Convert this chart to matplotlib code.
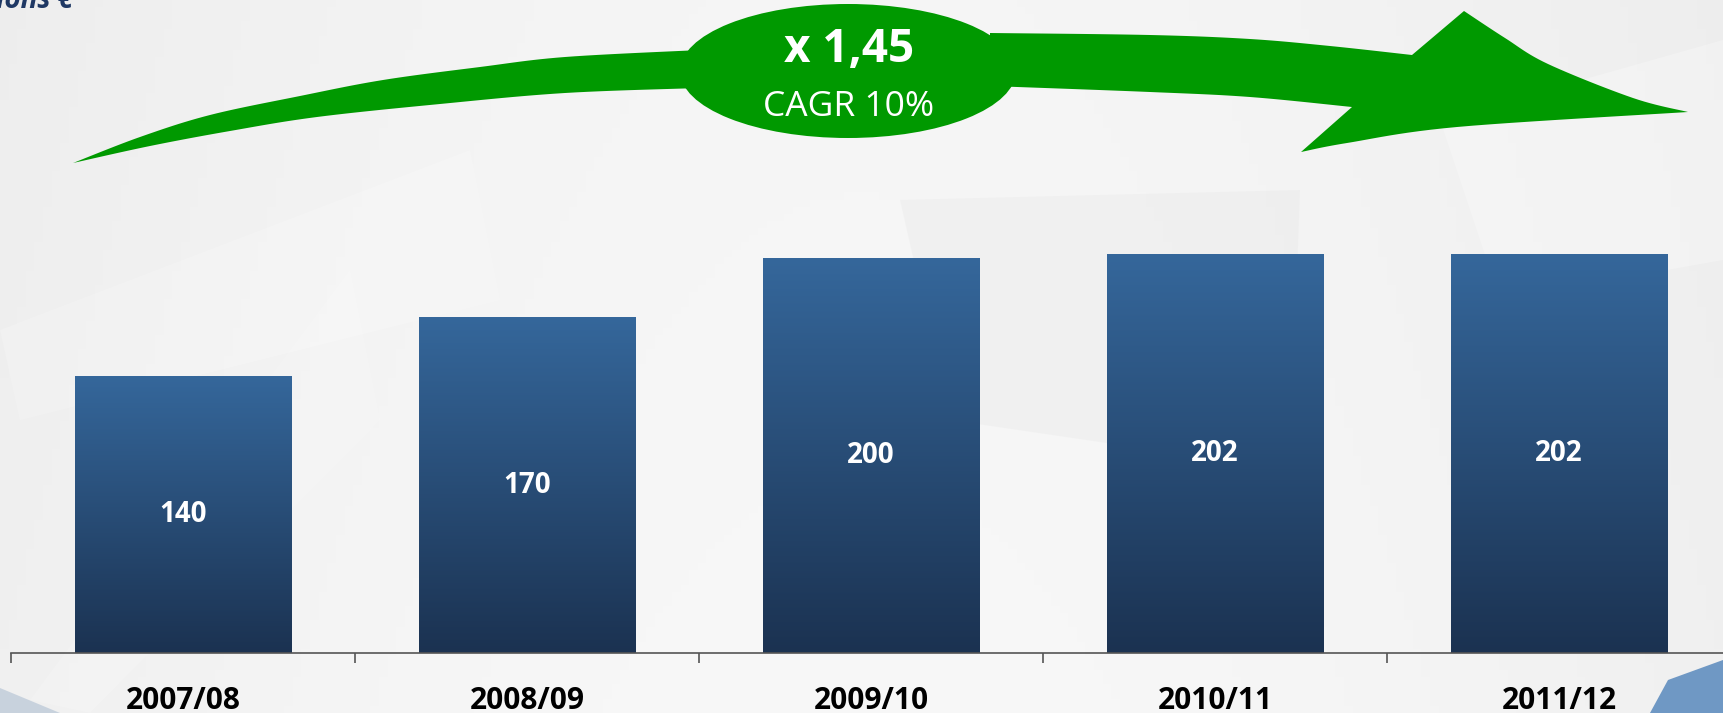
import numpy as np
import matplotlib
matplotlib.use("Agg")
import matplotlib.pyplot as plt
from matplotlib.patches import Polygon, Ellipse
from matplotlib.colors import LinearSegmentedColormap

years = ["2007/08", "2008/09", "2009/10", "2010/11", "2011/12"]
revenue = [140, 170, 200, 202, 202]
growth_label = "x 1,45"
cagr_label = "CAGR 10%"
unit_label = "Millions €"

W, H = 1723, 713
GREEN = "#009900"
BAR_TOP, BAR_BOT = "#35679b", "#1b3251"
plt.rcParams.update({"font.family": ["Open Sans", "DejaVu Sans"]})


def smooth(pts, n=12):
    # catmull-rom through the outline points, so the arrow edges are not jagged
    p = np.asarray(pts, float)
    p = np.vstack([p[0], p, p[-1]])
    out = []
    for i in range(1, len(p) - 2):
        p0, p1, p2, p3 = p[i - 1], p[i], p[i + 1], p[i + 2]
        for t in np.linspace(0, 1, n, endpoint=False):
            out.append(0.5 * (2 * p1 + (p2 - p0) * t + (2 * p0 - 5 * p1 + 4 * p2 - p3) * t ** 2
                              + (3 * p1 - p0 - 3 * p2 + p3) * t ** 3))
    out.append(p[-2])
    return np.array(out)


fig = plt.figure(figsize=(W / 100, H / 100), dpi=100)

# background layer in pixel coordinates (y downwards)
bg = fig.add_axes([0, 0, 1, 1], zorder=0)
bg.set_xlim(0, W)
bg.set_ylim(H, 0)
bg.axis("off")
gx = np.linspace(0, 1, 200)
grad = 0.932 + 0.03 * np.sin(np.pi * gx)[None, :] + 0.01 * np.linspace(0, 1, 100)[:, None]
bg.imshow(np.dstack([grad] * 3), extent=(0, W, H, 0), aspect="auto", zorder=0)
# faint decorative shapes
for pts, c, a in [([(0, 330), (470, 150), (500, 300), (20, 420)], "white", 0.18),
                  ([(30, 700), (350, 270), (380, 420), (90, 713)], "white", 0.15),
                  ([(900, 200), (1300, 190), (1290, 470), (950, 420)], "#e2e2e2", 0.25),
                  ([(1440, 120), (1723, 40), (1723, 260), (1500, 300)], "white", 0.25)]:
    bg.add_patch(Polygon(pts, closed=True, fc=c, ec="none", alpha=a, zorder=1))
bg.add_patch(Polygon([(1650, 713), (1668, 680), (1723, 660), (1723, 713)],
                     closed=True, fc="#6f98c4", ec="none", zorder=2))
bg.add_patch(Polygon([(0, 688), (60, 713), (0, 713)],
                     closed=True, fc="#b8c6d6", ec="none", alpha=0.7, zorder=2))

# growth arrow
lt = smooth([(73, 163), (140, 137), (210, 115), (300, 96), (383, 80), (480, 67), (565, 57), (700, 50)])
lb = smooth([(700, 88), (565, 93), (440, 104), (317, 117), (230, 131), (150, 146), (73, 163)])
rt = smooth([(990, 33), (1150, 35), (1250, 39), (1330, 46), (1412, 55)])
rh = smooth([(1464, 11), (1505, 38), (1548, 64), (1633, 98), (1688, 112)])
rb = smooth([(1688, 112), (1457, 127), (1347, 143), (1301, 152)])
rl = smooth([(1352, 107), (1250, 97), (1150, 92), (990, 86)])
bg.add_patch(Polygon(np.vstack([lt, lb]), closed=True, fc=GREEN, ec="none", zorder=3))
bg.add_patch(Polygon(np.vstack([rt, rh, rb, rl]), closed=True, fc=GREEN, ec="none", zorder=3))
bg.add_patch(Ellipse((848, 71), 336, 134, fc=GREEN, ec="none", zorder=4))
bg.text(849, 50, growth_label, color="white", fontsize=33, fontweight="bold",
        ha="center", va="center", zorder=5)
bg.text(849, 107, cagr_label, color="white", fontsize=25.5,
        ha="center", va="center", zorder=5)
bg.text(73, 8, unit_label, color="#1f3864", fontsize=20, fontweight="bold",
        style="italic", ha="right", va="baseline", zorder=5)

# bar chart
px_per_unit = 1.975
ax = fig.add_axes([11 / W, 60 / H, 1720 / W, 653 / H], zorder=1)
ax.set_facecolor("none")
cmap = LinearSegmentedColormap.from_list("bar", [BAR_BOT, BAR_TOP])
bw = 0.628
bars = ax.bar(range(len(years)), revenue, width=bw, color="none", edgecolor="none")
for i, (b, v) in enumerate(zip(bars, revenue)):
    ax.imshow(np.linspace(0, 1, 256)[:, None], cmap=cmap, origin="lower",
              extent=(i - bw / 2, i + bw / 2, 0, v), aspect="auto", zorder=2)
    ax.text(i, v / 2, str(v), color="white", fontsize=20, fontweight="bold",
            ha="center", va="center", zorder=3)
ax.set_xlim(-0.5, len(years) - 0.5)
ax.set_ylim(0, 653 / px_per_unit)

for s in ["top", "right", "left"]:
    ax.spines[s].set_visible(False)
ax.spines["bottom"].set_color("#555555")
ax.spines["bottom"].set_linewidth(1.2)
ax.spines["bottom"].set_zorder(4)
ax.set_yticks([])
ax.set_xticks(range(len(years)))
ax.set_xticklabels(years, fontsize=21.5, fontweight="bold", color="black")
ax.tick_params(axis="x", which="major", length=0, pad=24)
ax.set_xticks(np.arange(-0.5, len(years), 1.0), minor=True)
ax.tick_params(axis="x", which="minor", length=7, width=1.2, color="#555555", direction="out")

fig.savefig("out.png", dpi=100)
